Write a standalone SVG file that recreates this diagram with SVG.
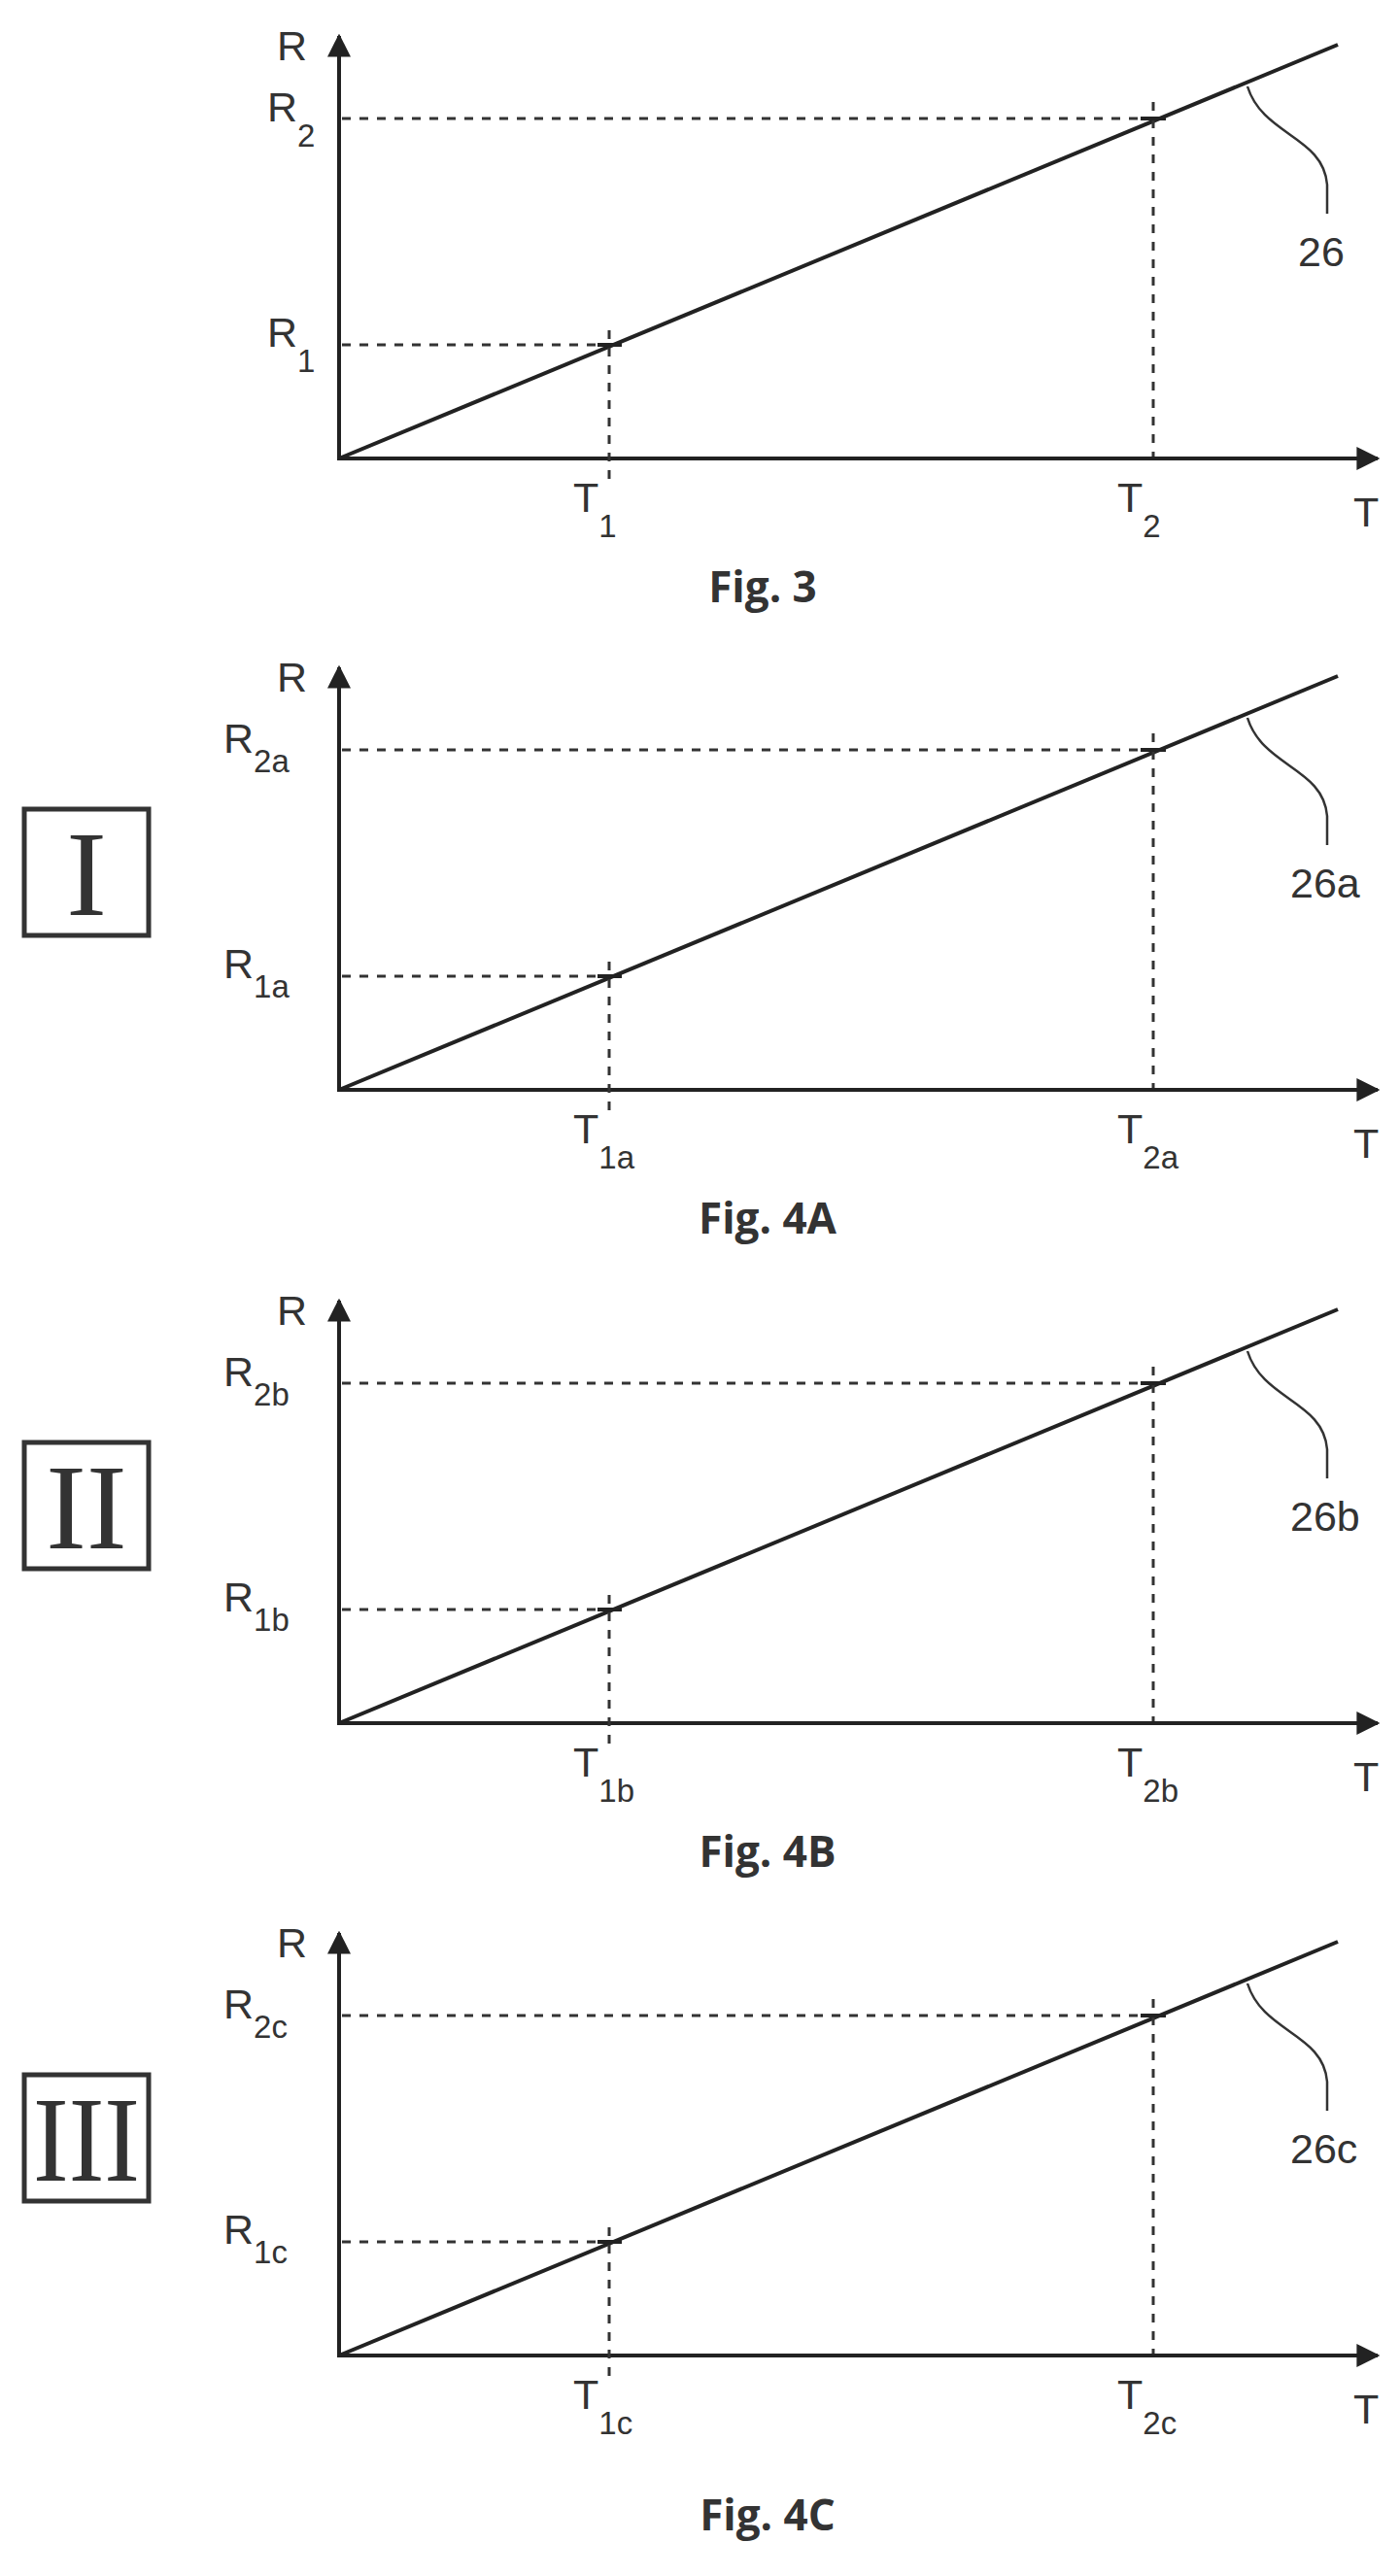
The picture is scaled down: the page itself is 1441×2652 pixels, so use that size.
<svg xmlns="http://www.w3.org/2000/svg" xmlns:xlink="http://www.w3.org/1999/xlink" width="1441" height="2652" viewBox="0 0 1441 2652">
<style>
.ax{stroke:#222;stroke-width:4;fill:none}
.ln{stroke:#222;stroke-width:4;fill:none}
.ds{stroke:#333;stroke-width:3;stroke-dasharray:9,9;fill:none}
.ld{stroke:#333;stroke-width:2.5;fill:none}
.lb{font-family:"Liberation Sans",Arial,sans-serif;font-size:43px;fill:#333}
.sb{font-size:33px}
.fg{font-family:"Open Sans","Liberation Sans",sans-serif;font-weight:bold;font-size:44px;fill:#333}
.rn{font-family:"Liberation Serif",serif;font-size:125px;fill:#333}
.bx{stroke:#333;stroke-width:5;fill:none}
</style>
<defs>
<marker id="ar" viewBox="0 0 10 10" refX="9" refY="5" markerWidth="6" markerHeight="6" orient="auto"><path d="M0,0 L10,5 L0,10 z" fill="#222"/></marker>
<g id="chart">
<line class="ax" x1="349" y1="474" x2="349" y2="37" marker-end="url(#ar)"/>
<line class="ax" x1="347" y1="472" x2="1418" y2="472" marker-end="url(#ar)"/>
<line class="ln" x1="349" y1="472" x2="1377" y2="46"/>
<line class="ds" x1="352" y1="122" x2="1187" y2="122"/>
<line class="ds" x1="352" y1="355" x2="627" y2="355"/>
<line class="ds" x1="627" y1="340" x2="627" y2="500"/>
<line class="ds" x1="1187" y1="105" x2="1187" y2="470"/>
<path class="ln" d="M615,355 H640 M1174,122 H1200"/>
<path class="ld" d="M1284,89 C1300,140 1362,140 1366,190 L1366,220"/>
</g>
</defs>
<g id="fig3">
<use xlink:href="#chart"/>
<text class="lb" x="285" y="62">R</text>
<text class="lb" x="275" y="125">R<tspan class="sb" dy="26">2</tspan></text>
<text class="lb" x="275" y="357">R<tspan class="sb" dy="26">1</tspan></text>
<text class="lb" x="590" y="527">T<tspan class="sb" dy="26">1</tspan></text>
<text class="lb" x="1150" y="527">T<tspan class="sb" dy="26">2</tspan></text>
<text class="lb" x="1393" y="542">T</text>
<text class="lb" x="1336" y="274">26</text>
<text class="fg" x="785" y="620" text-anchor="middle">Fig. 3</text>
</g>
<g id="fig4a" transform="translate(0,650)">
<use xlink:href="#chart"/>
<rect class="bx" x="25" y="183" width="128" height="130"/>
<text class="rn" x="89" y="292" text-anchor="middle">I</text>
<text class="lb" x="285" y="62">R</text>
<text class="lb" x="230" y="125">R<tspan class="sb" dy="20">2a</tspan></text>
<text class="lb" x="230" y="357">R<tspan class="sb" dy="20">1a</tspan></text>
<text class="lb" x="590" y="527">T<tspan class="sb" dy="26">1a</tspan></text>
<text class="lb" x="1150" y="527">T<tspan class="sb" dy="26">2a</tspan></text>
<text class="lb" x="1393" y="542">T</text>
<text class="lb" x="1328" y="274">26a</text>
<text class="fg" x="790" y="620" text-anchor="middle">Fig. 4A</text>
</g>
<g id="fig4b" transform="translate(0,1302)">
<use xlink:href="#chart"/>
<rect class="bx" x="25" y="183" width="128" height="130"/>
<text class="rn" x="89" y="292" text-anchor="middle">II</text>
<text class="lb" x="285" y="62">R</text>
<text class="lb" x="230" y="125">R<tspan class="sb" dy="20">2b</tspan></text>
<text class="lb" x="230" y="357">R<tspan class="sb" dy="20">1b</tspan></text>
<text class="lb" x="590" y="527">T<tspan class="sb" dy="26">1b</tspan></text>
<text class="lb" x="1150" y="527">T<tspan class="sb" dy="26">2b</tspan></text>
<text class="lb" x="1393" y="542">T</text>
<text class="lb" x="1328" y="274">26b</text>
<text class="fg" x="790" y="620" text-anchor="middle">Fig. 4B</text>
</g>
<g id="fig4c" transform="translate(0,1953)">
<use xlink:href="#chart"/>
<rect class="bx" x="25" y="183" width="128" height="130"/>
<text class="rn" x="89" y="292" text-anchor="middle" textLength="110" lengthAdjust="spacingAndGlyphs">III</text>
<text class="lb" x="285" y="62">R</text>
<text class="lb" x="230" y="125">R<tspan class="sb" dy="20">2c</tspan></text>
<text class="lb" x="230" y="357">R<tspan class="sb" dy="20">1c</tspan></text>
<text class="lb" x="590" y="527">T<tspan class="sb" dy="26">1c</tspan></text>
<text class="lb" x="1150" y="527">T<tspan class="sb" dy="26">2c</tspan></text>
<text class="lb" x="1393" y="542">T</text>
<text class="lb" x="1328" y="274">26c</text>
<text class="fg" x="790" y="652" text-anchor="middle">Fig. 4C</text>
</g>
</svg>
